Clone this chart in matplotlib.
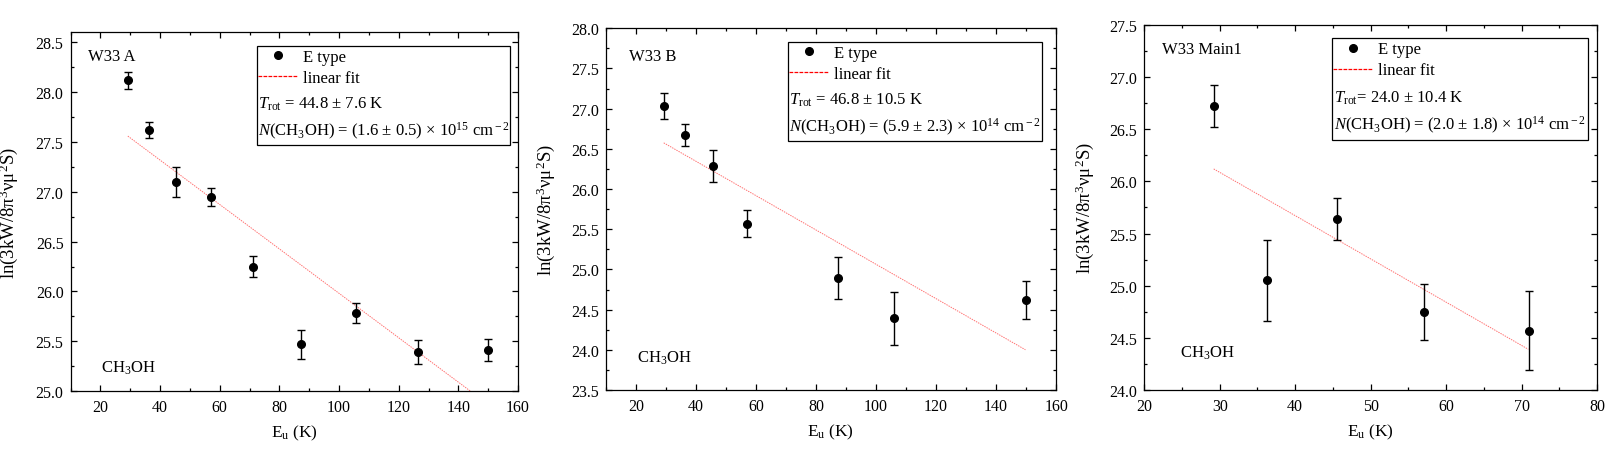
import matplotlib
matplotlib.use("Agg")
import matplotlib.pyplot as plt
from matplotlib.lines import Line2D
from matplotlib.patches import Rectangle
from matplotlib.ticker import MultipleLocator, FormatStrFormatter

plt.rcParams['font.family'] = ['Liberation Serif', 'DejaVu Serif']
plt.rcParams['mathtext.fontset'] = 'custom'
plt.rcParams['mathtext.rm'] = 'Liberation Serif'
plt.rcParams['mathtext.it'] = 'Liberation Serif:italic'

# W33 A
eu_a = [29.2, 36.2, 45.5, 57.1, 71.0, 87.3, 105.8, 126.6, 149.8]
ln_a = [28.12, 27.62, 27.10, 26.95, 26.25, 25.47, 25.78, 25.39, 25.41]
err_a = [0.085, 0.08, 0.15, 0.09, 0.11, 0.145, 0.10, 0.12, 0.11]
fit_x_a = [29.2, 149.8]
fit_y_a = [27.56, 24.87]

# W33 B
eu_b = [29.3, 36.3, 45.6, 57.1, 87.5, 105.9, 150.0]
ln_b = [27.03, 26.67, 26.29, 25.57, 24.89, 24.39, 24.62]
err_b = [0.16, 0.14, 0.20, 0.165, 0.26, 0.33, 0.235]
fit_x_b = [29.3, 149.8]
fit_y_b = [26.575, 24.00]

# W33 Main1
eu_c = [29.2, 36.2, 45.5, 57.1, 71.0]
ln_c = [26.72, 25.05, 25.64, 24.75, 24.57]
err_c = [0.20, 0.39, 0.20, 0.27, 0.38]
fit_x_c = [29.2, 70.9]
fit_y_c = [26.12, 24.39]

sources = ['W33 A', 'W33 B', 'W33 Main1']
trot_labels = [r'$T_{\rm rot}$ = 44.8 ± 7.6 K',
               r'$T_{\rm rot}$ = 46.8 ± 10.5 K',
               r'$T_{\rm rot}$= 24.0 ± 10.4 K']
ncol_labels = [r'$N$(CH$_3$OH) = (1.6 ± 0.5) × 10$^{15}$ cm$^{\rm -2}$',
               r'$N$(CH$_3$OH) = (5.9 ± 2.3) × 10$^{14}$ cm$^{\rm -2}$',
               r'$N$(CH$_3$OH) = (2.0 ± 1.8) × 10$^{14}$ cm$^{\rm -2}$']

panels = [(eu_a, ln_a, err_a, fit_x_a, fit_y_a),
          (eu_b, ln_b, err_b, fit_x_b, fit_y_b),
          (eu_c, ln_c, err_c, fit_x_c, fit_y_c)]

# layout
rects = [[0.0435, 0.1327, 0.2761, 0.7932],
         [0.3737, 0.1350, 0.2778, 0.8002],
         [0.7059, 0.1350, 0.2793, 0.8075]]
xlims = [(10, 160), (10, 160), (20, 80)]
ylims = [(25.0, 28.6), (23.5, 28.0), (24.0, 27.5)]
xmajor = [20, 20, 10]
name_pos = [(0.040, 0.935), (0.052, 0.923), (0.039, 0.934)]
mol_pos = [(0.069, 0.067), (0.069, 0.090), (0.078, 0.103)]
ylab_x = [-0.112, -0.108, -0.107]
boxes = [(0.416, 0.686, 0.981, 0.963),
         (0.404, 0.688, 0.969, 0.963),
         (0.414, 0.685, 0.981, 0.963)]

fig = plt.figure(figsize=(16.21, 4.52), dpi=100)

for i, (x, y, e, fx, fy) in enumerate(panels):
    ax = fig.add_axes(rects[i])
    ax.errorbar(x, y, yerr=e, fmt='o', color='black', ms=5.5,
                elinewidth=1, capsize=3, capthick=1, zorder=3)
    ax.plot(fx, fy, color='red', lw=0.7, ls=(0, (1.5, 1)), alpha=0.55)

    ax.set_xlim(*xlims[i])
    ax.set_ylim(*ylims[i])
    ax.xaxis.set_major_locator(MultipleLocator(xmajor[i]))
    ax.xaxis.set_minor_locator(MultipleLocator(xmajor[i] / 2))
    ax.yaxis.set_major_locator(MultipleLocator(0.5))
    ax.yaxis.set_minor_locator(MultipleLocator(0.25))
    ax.yaxis.set_major_formatter(FormatStrFormatter('%.1f'))
    ax.tick_params(which='both', direction='in', top=True, right=True,
                   labelsize=11.5, width=0.9)
    ax.tick_params(which='major', length=4.5)
    ax.tick_params(which='minor', length=2.5)
    ax.tick_params(axis='x', pad=5.5)
    ax.tick_params(axis='y', pad=5)
    for s in ax.spines.values():
        s.set_linewidth(0.9)

    ax.set_xlabel(r'E$_{\rm u}$ (K)', fontsize=12.5, labelpad=6)
    ax.set_ylabel(r'ln(3kW/8π$^3$νμ$^2$S)', fontsize=13.5)
    ax.yaxis.set_label_coords(ylab_x[i], 0.5)

    ax.text(*name_pos[i], sources[i], transform=ax.transAxes,
            fontsize=12, va='center', ha='left')
    ax.text(*mol_pos[i], r'CH$_3$OH', transform=ax.transAxes,
            fontsize=12, va='center', ha='left')

    # legend box with the fit results
    bx0, by0, bx1, by1 = boxes[i]
    ax.add_patch(Rectangle((bx0, by0), bx1 - bx0, by1 - by0,
                           transform=ax.transAxes, fill=False,
                           edgecolor='black', lw=0.9, zorder=4))
    handles = [Line2D([], [], marker='o', ls='none', color='black', ms=5.5),
               Line2D([], [], color='red', lw=0.9, ls=(0, (3, 1)))]
    ax.legend(handles, ['E type', 'linear fit'], loc='upper left',
              bbox_to_anchor=(bx0 + 0.002, 0.955), frameon=False, fontsize=12,
              handlelength=2.4, handletextpad=0.3, labelspacing=0.3,
              borderaxespad=0, borderpad=0)
    ax.text(bx0 + 0.004, 0.803, trot_labels[i], transform=ax.transAxes,
            fontsize=12, va='center', ha='left')
    ax.text(bx0 + 0.004, 0.728, ncol_labels[i], transform=ax.transAxes,
            fontsize=12, va='center', ha='left')

fig.savefig('out.png', dpi=100)
